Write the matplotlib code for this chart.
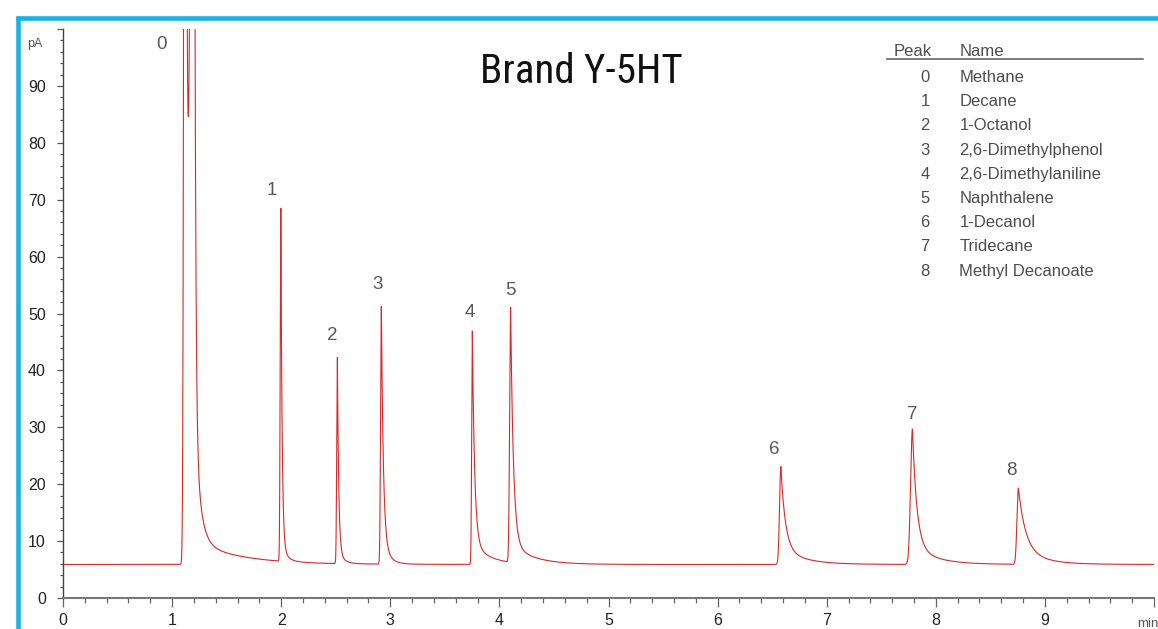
import numpy as np
import matplotlib
matplotlib.use("Agg")
import matplotlib.pyplot as plt
from matplotlib.lines import Line2D
from matplotlib.ticker import MultipleLocator

# peak table
peak_num = [0, 1, 2, 3, 4, 5, 6, 7, 8]
peak_names = ["Methane", "Decane", "1-Octanol", "2,6-Dimethylphenol",
              "2,6-Dimethylaniline", "Naphthalene", "1-Decanol", "Tridecane",
              "Methyl Decanoate"]
peak_rt = [1.12, 1.997, 2.515, 2.918, 3.752, 4.103, 6.58, 7.786, 8.757]  # min

# trace: one row per eluting band
# (methane is a split, off-scale band plus its long tail)
baseline = 5.9
band_t = [1.12, 1.20, 1.20, 1.997, 2.515, 2.918, 3.752, 4.103, 6.58, 7.786, 8.757]
band_hfast = [300, 200, 4.2, 59, 34, 40.8, 37, 41.3, 14.2, 20.3, 10.4]
band_tfast = [0.0135, 0.010, 0.40, 0.011, 0.012, 0.018, 0.0206, 0.025, 0.041, 0.040, 0.065]
band_hslow = [0, 25, 0, 3, 2.2, 4.5, 4, 3.5, 3, 3.5, 3]
band_tslow = [1, 0.048, 1, 0.05, 0.05, 0.06, 0.15, 0.2, 0.2, 0.2, 0.2]
band_front = [0.010, 0.028, 0.03, 0.006, 0.006, 0.007, 0.006, 0.009, 0.012, 0.017, 0.013]

# label offsets in pixels from the apex
label_off = [(-24, -18), (-9, 16), (-5, 20), (-4, 20), (-3, 17), (0, 15), (-7, 15), (0, 12), (-7, 15)]

t = np.linspace(0, 10, 40001)
signal = np.full_like(t, baseline)
for t0, hf, tf, hs, ts, sg in zip(band_t, band_hfast, band_tfast, band_hslow, band_tslow, band_front):
    dt = t - t0
    dtp = np.clip(dt, 0, None)
    front = (hf + hs) * np.exp(-0.5 * (dt / sg) ** 2)
    tail = hf * np.exp(-dtp / tf) + hs * np.exp(-dtp / ts)
    signal += np.where(dt < 0, front, tail)

plt.rcParams['font.family'] = ['Liberation Sans', 'DejaVu Sans']

fig = plt.figure(figsize=(11.58, 6.29), dpi=100)
ax = fig.add_axes([63 / 1158, 1 - 598 / 629, (1154 - 63) / 1158, (598 - 29) / 629])

ax.plot(t, signal, color='#d42a2a', lw=0.8)
ax.set_xlim(0, 10)
ax.set_ylim(0, 100)

for s in ['top', 'right']:
    ax.spines[s].set_visible(False)
ax.spines['left'].set_color('#444444')
ax.spines['left'].set_linewidth(1.0)
ax.spines['bottom'].set_color('#777777')
ax.spines['bottom'].set_linewidth(1.5)

ax.xaxis.set_minor_locator(MultipleLocator(0.2))
ax.yaxis.set_minor_locator(MultipleLocator(2))
ax.set_xticks(range(11))
ax.set_xticklabels([str(i) for i in range(10)] + [""])
ax.set_yticks(range(0, 101, 10))
ax.set_yticklabels([str(i) for i in range(0, 100, 10)] + [""])
ax.tick_params(axis='x', which='major', length=6.7, width=0.9, color='#666666',
               labelsize=11.5, labelcolor='#222222', pad=4)
ax.tick_params(axis='x', which='minor', length=3.6, width=0.9, color='#666666')
ax.tick_params(axis='y', which='major', length=4.3, width=0.9, color='#555555',
               labelsize=11.5, labelcolor='#222222', pad=8)
ax.tick_params(axis='y', which='minor', length=2.4, width=0.9, color='#555555')

ax.text(-0.33, 96.9, "pA", fontsize=9, color='#555555', ha='left', va='baseline', clip_on=False)
ax.text(9.85, -5.1, "min", fontsize=9.5, color='#555555', ha='left', va='baseline', clip_on=False)

# peak numbers
for num, rt, (dx, dy) in zip(peak_num, peak_rt, label_off):
    apex = min(np.interp(rt, t, signal), 100)
    ax.annotate(str(num), xy=(rt, apex), xytext=(dx * 0.72, dy * 0.72 + 1.5),
                textcoords='offset points', ha='center', va='center',
                fontsize=13.5, color='#595959', annotation_clip=False)

# title
ax.text(4.748, 90.58, "Brand Y-5HT", fontsize=29.5, color='#111111', ha='center', va='baseline',
        family=['Roboto Condensed', 'Barlow Semi Condensed', 'Roboto', 'DejaVu Sans'])

# peak table
tc = '#4d4d4d'
ax.text(7.610, 95.27, "Peak", fontsize=12, color=tc, ha='left', va='baseline')
ax.text(8.215, 95.27, "Name", fontsize=12, color=tc, ha='left', va='baseline')
ax.plot([7.550, 9.902], [94.66, 94.66], color='#666666', lw=1.2, clip_on=False)
for i, (num, name) in enumerate(zip(peak_num, peak_names)):
    yb = 90.70 - i * 4.254
    ax.text(7.901, yb, str(num), fontsize=12, color=tc, ha='center', va='baseline')
    ax.text(8.215, yb, name, fontsize=12, color=tc, ha='left', va='baseline')

# cyan frame
fig.add_artist(Line2D([17.5 / 1158, 17.5 / 1158], [0, 1 - 15.7 / 629], color='#1ab2e4', lw=3.3,
                      solid_capstyle='butt'))
fig.add_artist(Line2D([15.7 / 1158, 1], [1 - 18 / 629, 1 - 18 / 629], color='#1ab2e4', lw=3.3,
                      solid_capstyle='butt'))

fig.savefig("out.png", dpi=100)
